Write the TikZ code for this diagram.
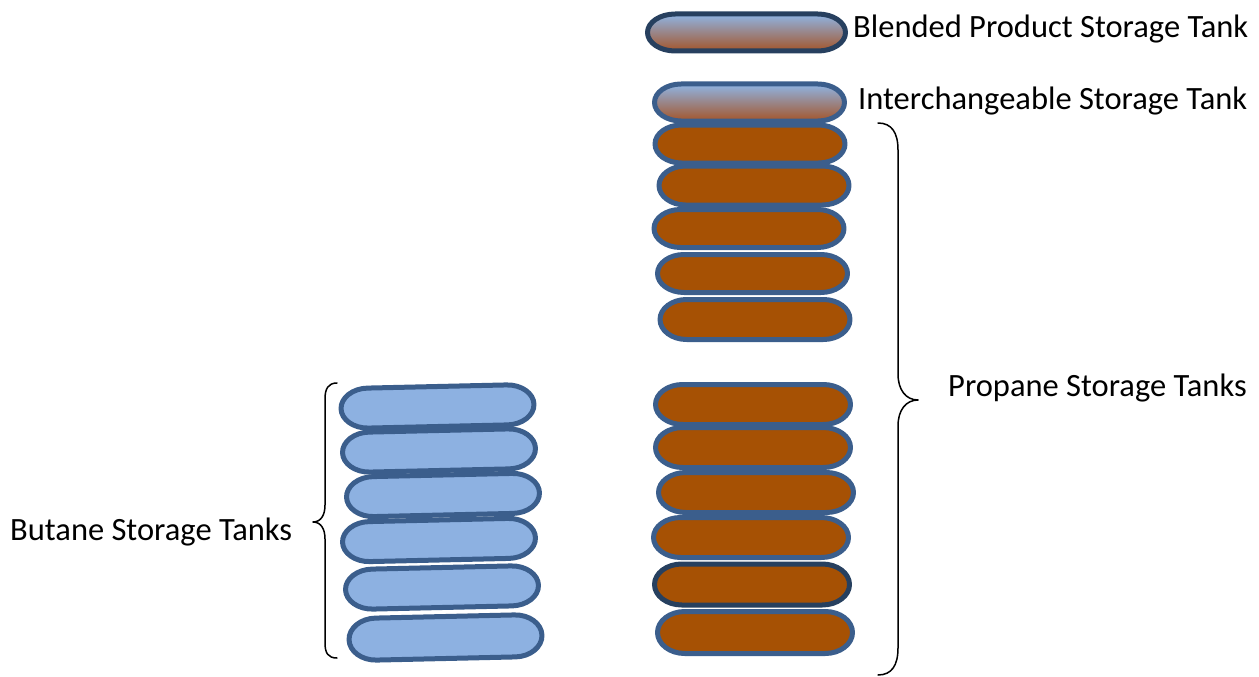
\documentclass[tikz,border=0pt]{standalone}
\usepackage{fontspec}
\setmainfont{Carlito}
\usetikzlibrary{calc}
\definecolor{tankedge}{HTML}{3B5E8C}
\definecolor{tankedgedark}{HTML}{27405F}
\definecolor{propanefill}{HTML}{A65104}
\definecolor{butanefill}{HTML}{8DB1E1}
\definecolor{blendtop}{HTML}{8FB4E3}
\definecolor{blendmid}{HTML}{9A8CA8}
\definecolor{blendbot}{HTML}{A4552A}
\tikzset{
  tank/.style={rectangle, minimum width=190pt, minimum height=37pt, inner sep=0pt, outer sep=0pt},
  tankline/.style={draw=tankedge, line width=5pt, line join=round},
  propane/.style={tankline, fill=propanefill},
  butane/.style={tankline, fill=butanefill},
  blend/.style={tankline, top color=blendtop, middle color=blendmid, bottom color=blendbot},
  label/.style={inner sep=0pt, anchor=base west, font=\fontsize{32.5}{39}\selectfont},
  bracket/.style={line width=1.5pt, line cap=round, line join=round}
}
% capsule outline with half-elliptical ends, following the anchors of node #1
\newcommand\tankoutline[2]{%
  \path[#2] ($(#1.north west)!0.14!(#1.north east)$) -- ($(#1.north west)!0.86!(#1.north east)$)
    .. controls ($(#1.north west)!0.9373!(#1.north east)$) and ($(#1.east)!0.552!(#1.north east)$) .. (#1.east)
    .. controls ($(#1.east)!0.552!(#1.south east)$) and ($(#1.south west)!0.9373!(#1.south east)$) .. ($(#1.south west)!0.86!(#1.south east)$)
    -- ($(#1.south west)!0.14!(#1.south east)$)
    .. controls ($(#1.south west)!0.0627!(#1.south east)$) and ($(#1.west)!0.552!(#1.south west)$) .. (#1.west)
    .. controls ($(#1.west)!0.552!(#1.north west)$) and ($(#1.north west)!0.0627!(#1.north east)$) .. ($(#1.north west)!0.14!(#1.north east)$)
    -- cycle;}
\begin{document}
\begin{tikzpicture}[x=1pt, y=-1pt]
\useasboundingbox (0,0) rectangle (1259,677);

% blended product and interchangeable tanks
\node[tank, minimum width=198pt] (blended) at (746.5,32.5) {};
\node[tank] (inter) at (749.5,102.5) {};

% propane tanks, upper group
\node[tank, minimum height=38pt] (p1) at (750,144) {};
\node[tank, minimum height=39pt] (p2) at (754,185.5) {};
\node[tank, minimum height=38pt] (p3) at (749,228.5) {};
\node[tank, minimum height=38pt] (p4) at (752.5,273.5) {};
\node[tank, minimum height=40pt] (p5) at (755,319.5) {};

% propane tanks, lower group
\node[tank, minimum width=195pt, minimum height=40pt] (p6) at (753,404.5) {};
\node[tank, minimum width=195pt, minimum height=40pt] (p7) at (753,447.5) {};
\node[tank, minimum width=195pt, minimum height=40pt] (p8) at (756,492.5) {};
\node[tank, minimum width=195pt, minimum height=40pt] (p9) at (751,537.5) {};
\node[tank, minimum width=195pt, minimum height=41pt] (p10) at (752,584.5) {};
\node[tank, minimum width=195pt, minimum height=42pt] (p11) at (755,632.5) {};

% butane tanks, each tilted slightly
\node[tank, rotate=1.3, minimum width=193pt, minimum height=40pt] (b1) at (437.5,406.5) {};
\node[tank, rotate=1.3, minimum width=193pt, minimum height=40pt] (b2) at (439,450.5) {};
\node[tank, rotate=1.3, minimum width=193pt, minimum height=40pt] (b3) at (443,495) {};
\node[tank, rotate=1.3, minimum width=193pt, minimum height=40pt] (b4) at (439,540) {};
\node[tank, rotate=1.3, minimum width=193pt, minimum height=40pt] (b5) at (442,587.5) {};
\node[tank, rotate=1.3, minimum width=193pt, minimum height=42pt] (b6) at (445.5,637.5) {};

% tank outlines, drawn top to bottom so lower tanks overlap upper ones
\tankoutline{blended}{blend, draw=tankedgedark}
\tankoutline{inter}{blend}
\tankoutline{p1}{propane}
\tankoutline{p2}{propane}
\tankoutline{p3}{propane}
\tankoutline{p4}{propane}
\tankoutline{p5}{propane}
\tankoutline{p6}{propane}
\tankoutline{p7}{propane}
\tankoutline{p8}{propane}
\tankoutline{p9}{propane}
\tankoutline{p10}{propane, draw=tankedgedark}
\tankoutline{p11}{propane}
\tankoutline{b1}{butane}
\tankoutline{b2}{butane}
\tankoutline{b3}{butane}
\tankoutline{b4}{butane}
\tankoutline{b5}{butane}
\tankoutline{b6}{butane}

% braces
\draw[bracket] (337,383) .. controls (328,383) and (325,389) .. (325,399)
  -- (325,505) .. controls (325,515) and (321,522) .. (313,522)
  .. controls (321,522) and (325,529) .. (325,539)
  -- (325,643) .. controls (325,653) and (328,658) .. (337,658);
\draw[bracket] (878,123) .. controls (892,123) and (898,133) .. (898,150)
  -- (898,374) .. controls (898,390) and (906,400) .. (918,400)
  .. controls (906,400) and (898,410) .. (898,426)
  -- (898,648) .. controls (898,665) and (892,675) .. (878,675);

% labels
\node[label] (lblend) at (853,38) {Blended Product Storage Tank};
\node[label] (linter) at (858,110) {Interchangeable Storage Tank};
\node[label] (lprop) at (948,396) {Propane Storage Tanks};
\node[label] (lbut) at (10,540) {Butane Storage Tanks};
\end{tikzpicture}
\end{document}
